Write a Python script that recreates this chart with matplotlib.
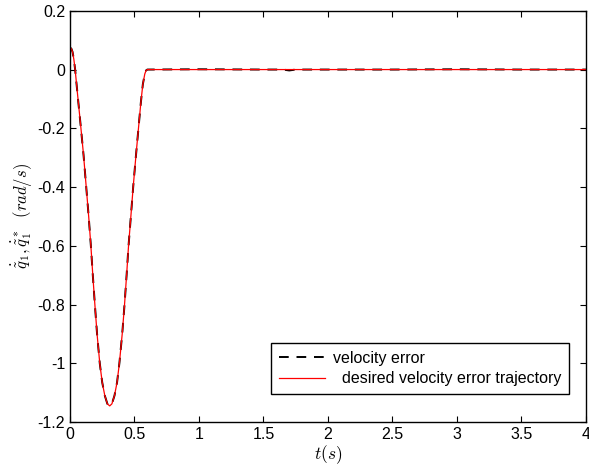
import numpy as np
import matplotlib
matplotlib.use("Agg")
import matplotlib.pyplot as plt

plt.rcParams['font.family'] = ['Liberation Sans', 'DejaVu Sans']
plt.rcParams['mathtext.fontset'] = 'cm'

# time samples (s)
t = [0.0, 0.01, 0.02, 0.03, 0.04, 0.06, 0.085, 0.105, 0.126, 0.145, 0.162,
     0.177, 0.193, 0.21, 0.231, 0.25, 0.27, 0.29, 0.308, 0.325, 0.345, 0.365,
     0.383, 0.405, 0.423, 0.439, 0.454, 0.472, 0.49, 0.51, 0.531, 0.55, 0.565,
     0.58, 0.59, 0.6, 1.0, 1.5, 1.65, 1.7, 1.75, 2.0, 2.5, 3.0, 3.5, 4.0]

# desired velocity error trajectory (rad/s)
q_des = [0.07, 0.072, 0.06, 0.035, 0.0, -0.09, -0.2, -0.29, -0.4, -0.5, -0.6,
         -0.7, -0.8, -0.9, -1.0, -1.065, -1.11, -1.138, -1.145, -1.138, -1.11,
         -1.065, -1.0, -0.9, -0.8, -0.7, -0.6, -0.5, -0.4, -0.3, -0.2, -0.11,
         -0.05, -0.015, -0.003, 0.0, 0.0, 0.0, 0.0, 0.0, 0.0, 0.0, 0.0, 0.0,
         0.0, 0.0]

# measured velocity error (rad/s)
q_err = [0.07, 0.072, 0.06, 0.035, 0.0, -0.09, -0.2, -0.29, -0.4, -0.5, -0.6,
         -0.7, -0.8, -0.9, -1.0, -1.065, -1.11, -1.138, -1.145, -1.138, -1.11,
         -1.065, -1.0, -0.9, -0.8, -0.7, -0.6, -0.5, -0.4, -0.3, -0.2, -0.11,
         -0.05, -0.015, -0.003, 0.0, 0.001, 0.0, 0.0, -0.003, 0.0, 0.0, 0.0,
         0.001, 0.0, 0.0]

fig = plt.figure(figsize=(5.89, 4.70), dpi=100)
ax = fig.add_axes([0.1188, 0.102, 0.876, 0.875])

ax.plot(t, q_err, 'k--', lw=1.4, dashes=(5, 4), label='velocity error')
ax.plot(t, q_des, 'r-', lw=0.9, label='  desired velocity error trajectory')

ax.set_xlim(0, 4)
ax.set_ylim(-1.2, 0.2)
ax.set_xticks(np.arange(0, 4.01, 0.5))
ax.set_xticklabels(['0', '0.5', '1', '1.5', '2', '2.5', '3', '3.5', '4'])
ax.set_yticks(np.arange(-1.2, 0.21, 0.2))
ax.set_yticklabels(['-1.2', '-1', '-0.8', '-0.6', '-0.4', '-0.2', '0', '0.2'])
ax.tick_params(direction='in', top=True, right=True, labelsize=11.5, length=4)
for s in ax.spines.values():
    s.set_linewidth(1.0)

ax.set_xlabel(r'$t(s)$', fontsize=12.5, labelpad=1)
ax.set_ylabel(r'$\dot{\tilde{q}}_1, \dot{\tilde{q}}_1^*\ \ (rad/s)$', fontsize=12, labelpad=2)

leg = ax.legend(loc='lower right', bbox_to_anchor=(0.967, 0.068), fontsize=11.5,
                fancybox=False, edgecolor='black', framealpha=1,
                handlelength=2.9, borderaxespad=0, borderpad=0.5,
                labelspacing=0.35, handletextpad=0.45)
leg.get_frame().set_linewidth(1.0)

fig.savefig('out.png', dpi=100)
